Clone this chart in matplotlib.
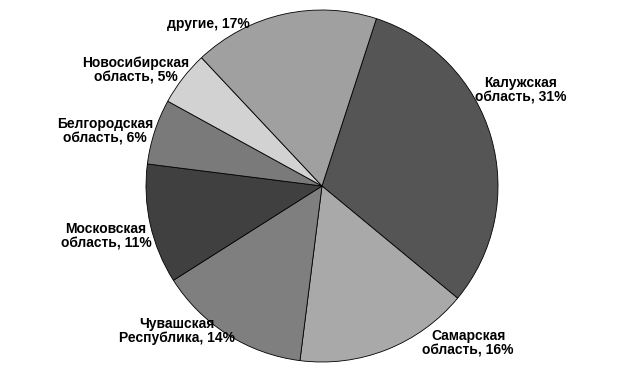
import matplotlib.pyplot as plt

# Share of regions (%), clockwise from the top
regions = ['Калужская\nобласть, 31%', 'Самарская\nобласть, 16%', 'Чувашская\nРеспублика, 14%',
           'Московская\nобласть, 11%', 'Белгородская\nобласть, 6%', 'Новосибирская\nобласть, 5%',
           'другие, 17%']
shares = [31, 16, 14, 11, 6, 5, 17]
colors = ['#555555', '#a9a9a9', '#7f7f7f', '#404040', '#7a7a7a', '#d2d2d2', '#a0a0a0']
# label centres in axis units (pie radius = 1)
label_xy = [(1.13, 0.545), (0.83, -0.892), (-0.824, -0.824), (-1.227, -0.284),
            (-1.233, 0.312), (-1.057, 0.659), (-0.648, 0.92)]

fig = plt.figure(figsize=(6.43, 3.78), dpi=100)
ax = fig.add_axes([0, 0, 1, 1])

ax.pie(shares, colors=colors, startangle=72, counterclock=False,
       wedgeprops=dict(edgecolor='black', linewidth=0.6))

for text, (x, y) in zip(regions, label_xy):
    ax.text(x, y, text, ha='center', va='center', multialignment='center',
            fontsize=10, fontweight='bold', family='Liberation Sans', linespacing=1.05)

ax.set_aspect('equal')
ax.set_xlim(-322 / 176, 321 / 176)
ax.set_ylim(-192 / 176, 186 / 176)
ax.axis('off')

fig.savefig('out.png', dpi=100)
